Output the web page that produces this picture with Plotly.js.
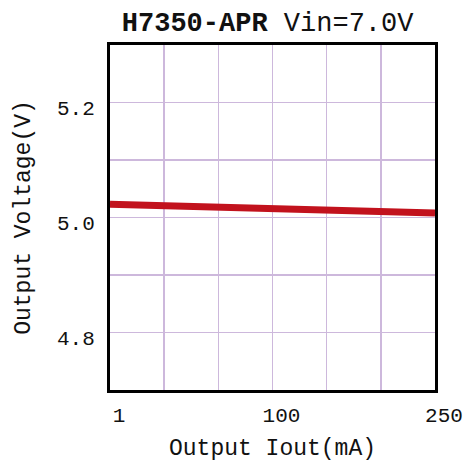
<!DOCTYPE html>
<html>
<head>
<meta charset="utf-8">
<script src="https://cdn.plot.ly/plotly-3.0.1.min.js"></script>
<style>html,body{margin:0;padding:0;background:#fff;}#chart{width:473px;height:470px;}</style>
</head>
<body>
<div id="chart"></div>
<script>
const currentLabels = ['1', '100', '250'];          // Output current (mA), as labelled on the axis
const outputVoltage = [5.023, 5.016, 5.008];          // Output voltage (V)
const yTickVals = [4.8, 5.0, 5.2];
const yTickText = ['4.8', '5.0', '5.2'];

const xIndex = currentLabels.map((_, i) => i);
const FONT = 'Liberation Mono, DejaVu Sans Mono, monospace';
const GRID = '#cdb8dc';

const trace = {
  x: xIndex,
  y: outputVoltage,
  type: 'scatter',
  mode: 'lines',
  line: {color: '#c2121d', width: 7},
  hoverinfo: 'skip'
};

const layout = {
  width: 473, height: 470,
  margin: {l: 110, r: 38, t: 45, b: 80},
  paper_bgcolor: '#fff', plot_bgcolor: '#fff',
  showlegend: false,
  font: {family: FONT, color: '#111'},
  title: {
    text: '<b>H7350-APR</b> Vin=7.0V',
    font: {family: FONT, size: 27, color: '#111'},
    x: 0.485, xanchor: 'center', xref: 'paper',
    y: 0.955, yanchor: 'middle', yref: 'container'
  },
  xaxis: {
    type: 'linear', range: [0, 2],
    tickmode: 'array', tickvals: xIndex, ticktext: currentLabels,
    ticks: '', ticklabelstandoff: 4, ticklabelshift: 9,
    tickfont: {family: FONT, size: 21, color: '#111'},
    showgrid: true, gridcolor: GRID, gridwidth: 1.5,
    minor: {tickmode: 'linear', tick0: 0, dtick: 1/3, showgrid: true, gridcolor: GRID, gridwidth: 1.5, ticks: ''},
    zeroline: false,
    showline: true, mirror: true, linecolor: '#000', linewidth: 3,
    title: {text: 'Output Iout(mA)', font: {family: FONT, size: 23, color: '#111'}, standoff: 12},
    fixedrange: true
  },
  yaxis: {
    range: [4.7, 5.3],
    tickmode: 'array', tickvals: yTickVals, ticktext: yTickText,
    ticks: '', ticklabelstandoff: 8, ticklabelshift: 5,
    tickfont: {family: FONT, size: 21, color: '#111'},
    showgrid: true, gridcolor: GRID, gridwidth: 1.5,
    minor: {tickmode: 'linear', tick0: 4.7, dtick: 0.1, showgrid: true, gridcolor: GRID, gridwidth: 1.5, ticks: ''},
    zeroline: false,
    showline: true, mirror: true, linecolor: '#000', linewidth: 3,
    title: {text: 'Output Voltage(V)', font: {family: FONT, size: 23, color: '#111'}, standoff: 20},
    fixedrange: true
  }
};

Plotly.newPlot('chart', [trace], layout, {staticPlot: true, displayModeBar: false});
</script>
</body>
</html>
